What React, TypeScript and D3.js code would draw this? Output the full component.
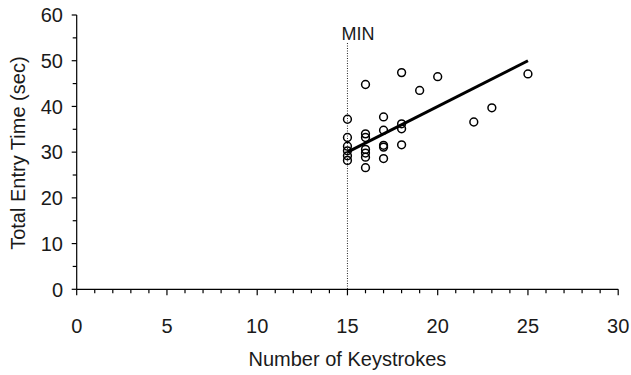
import React from "react";
import * as d3 from "d3";

// Keystroke counts and observed total entry times (sec)
const keystrokes = [
  15, 15, 15, 15, 15, 15,
  16, 16, 16, 16, 16, 16, 16,
  17, 17, 17, 17, 17,
  18, 18, 18, 18,
  19, 20, 22, 23, 25,
];
const entryTimes = [
  37.2, 33.2, 31.3, 30.3, 29.2, 28.2,
  44.8, 34.0, 33.2, 30.6, 29.8, 28.9, 26.6,
  37.7, 34.8, 31.5, 31.1, 28.6,
  47.4, 36.2, 35.1, 31.6,
  43.5, 46.5, 36.6, 39.7, 47.1,
];

// Predicted time line endpoints
const predictedX = [15, 25];
const predictedY = [30, 50];

// Minimum keystroke marker
const minKeystrokes = 15;
const minLabel = "MIN";

const xTicks = [0, 5, 10, 15, 20, 25, 30];
const yTicks = [0, 10, 20, 30, 40, 50, 60];

const W = 631;
const H = 375;
const FONT = "'Liberation Sans', Arial, Helvetica, sans-serif";
const INK = "#1a1a1a";

export default function App() {
  const x = d3.scaleLinear().domain([0, 30]).range([76.7, 618.2]);
  const y = d3.scaleLinear().domain([0, 60]).range([289.3, 15]);

  const minorX = d3.range(0, 31, 1).filter((v) => v % 5 !== 0);
  const minorY = d3.range(5, 60, 10);

  const line = d3
    .line<number>()
    .x((_, i) => x(predictedX[i]))
    .y((d) => y(d));

  return (
    <svg
      width={W}
      height={H}
      style={{ position: "absolute", left: 0, top: 0, background: "#fff" }}
      fontFamily={FONT}
    >
      {/* axes */}
      <line x1={x(0)} x2={x(0)} y1={y(60)} y2={y(0)} stroke="#000" strokeWidth={1.2} />
      <line x1={x(0)} x2={x(30)} y1={y(0)} y2={y(0)} stroke="#000" strokeWidth={1.2} />

      {/* y ticks */}
      {yTicks.map((t) => (
        <g key={"y" + t}>
          <line x1={x(0) - 5} x2={x(0)} y1={y(t)} y2={y(t)} stroke="#000" strokeWidth={1.2} />
          <text x={63} y={y(t)} dy="0.36em" textAnchor="end" fontSize={20} fill={INK}>
            {t}
          </text>
        </g>
      ))}
      {minorY.map((t) => (
        <line key={"ym" + t} x1={x(0) - 4} x2={x(0)} y1={y(t)} y2={y(t)} stroke="#000" strokeWidth={1.2} />
      ))}

      {/* x ticks */}
      {xTicks.map((t) => (
        <g key={"x" + t}>
          <line x1={x(t)} x2={x(t)} y1={y(0)} y2={y(0) + 6} stroke="#000" strokeWidth={1.2} />
          <text x={x(t)} y={332.7} textAnchor="middle" fontSize={20} fill={INK}>
            {t}
          </text>
        </g>
      ))}
      {minorX.map((t) => (
        <line key={"xm" + t} x1={x(t)} x2={x(t)} y1={y(0)} y2={y(0) + 4} stroke="#000" strokeWidth={1.2} />
      ))}

      {/* axis titles */}
      <text x={x(15)} y={366} textAnchor="middle" fontSize={20} fill={INK}>
        Number of Keystrokes
      </text>
      <text
        transform={`translate(25, ${y(30) + 1}) rotate(-90)`}
        textAnchor="middle"
        fontSize={20}
        fill={INK}
      >
        Total Entry Time (sec)
      </text>

      {/* minimum marker */}
      <line
        x1={x(minKeystrokes)}
        x2={x(minKeystrokes)}
        y1={43}
        y2={y(0)}
        stroke="#222"
        strokeWidth={1}
        strokeDasharray="1,1.5"
      />
      <text x={x(minKeystrokes) - 6} y={40} fontSize={18} fill={INK}>
        {minLabel}
      </text>

      {/* predicted line */}
      <path d={line(predictedY) ?? ""} fill="none" stroke="#000" strokeWidth={3} />

      {/* observations */}
      {keystrokes.map((k, i) => (
        <circle
          key={"p" + i}
          cx={x(k)}
          cy={y(entryTimes[i])}
          r={3.9}
          fill="none"
          stroke="#000"
          strokeWidth={1.5}
        />
      ))}
    </svg>
  );
}
